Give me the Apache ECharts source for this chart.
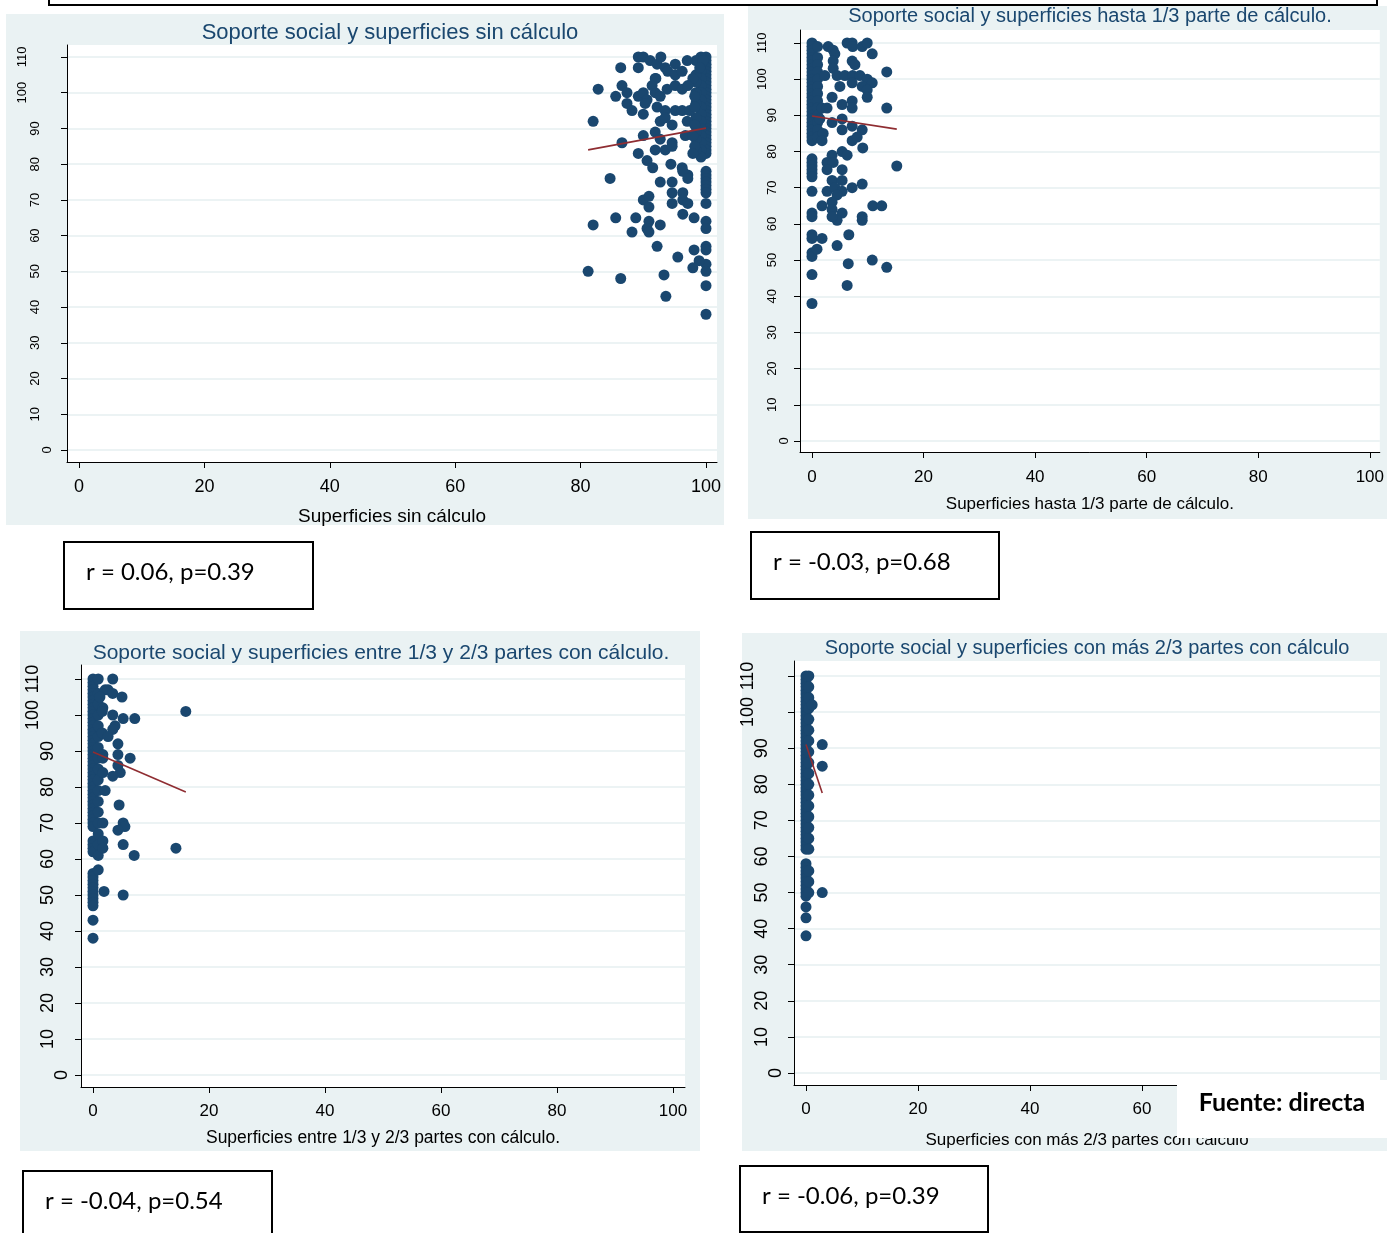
<!DOCTYPE html>
<html><head><meta charset="utf-8">
<script src="https://cdn.jsdelivr.net/npm/echarts@6/dist/echarts.min.js"></script>
<style>html,body{margin:0;padding:0;background:#fff}#c{width:1387px;height:1233px}</style>
</head><body><div id="c"></div>
<script>
// ---------- data ----------
const yTicks = [0,10,20,30,40,50,60,70,80,90,100,110];
const yTicks1 = [0];
const yTicks2 = [10,20,30,40,50,60,70,80,90];
const yTicks3 = [100,110];
const xTicks = [0,20,40,60,80,100];

// Panel 1: superficies sin cálculo
const p1Col100 = [110,109,108,107,106,105,104,103,102,101,100,99,98,97,96,95,94,93,92,91,90,89,88,87,86,85,84,83,78,77,76,75,74,73,72,69,64,62,57,56,52,50,46,38];
const p1Col99 = [110,108,106,104,102,100,98,96,94,92,90,88,86,84,82];
const p1Col98 = [109,105,103,100,97,93,89,87,84];
const p1Other = [[89.2,110],[90,110],[91.1,109],[92.2,108],[92.8,110],[93.5,107],[95.1,108],[97,109],[99.5,109],
 [86.4,107],[89.2,107],[91.9,104],[92,104],[93.9,106],[95.1,105],[96.2,106],[97.9,104],[99,107],
 [82.8,101],[86.6,102],[85.6,99],[87.4,100],[89.2,99],[90,100],[90.6,98],[91.9,100],[92.7,99],[93.8,101],[95.1,102],[96.2,101],[97.1,102],[98.2,99],[91.4,102],
 [87.4,97],[88.2,95],[90,94],[90.3,97],[92.2,96],[93.5,95],[95.1,95],[96.2,95],[97.4,95],[98.2,96],
 [82,92],[92.7,92],[94.6,91],[97,92],[98.2,91],[93.5,93],
 [90,88],[86.6,86],[91.9,89],[92.7,87],[94.6,86],[96.7,88],[97.9,88],[98.2,85],
 [89.2,83],[91.9,84],[93.5,84],[94.6,85],[97.9,83],
 [90.6,81],[91.5,79],[94.4,80],[96.2,79],[97.1,77],[96.3,78],[84.7,76],
 [92.7,75],[94.6,75],[97.1,76],[94.6,72],[96.3,72],[90,70],[90.9,71],[90.9,68],[94.6,69],[96.3,70],[97.1,69],
 [82,63],[85.6,65],[88.8,65],[90.9,64],[88.2,61],[90.6,62],[90.9,61],[92.7,63],[96.3,66],[98.1,65],
 [92.2,57],[95.5,54],[98.1,56],[98.9,53],[81.2,50],[86.4,48],[93.3,49],[97.9,51],[93.6,43]];
const p1Fit = [[81.2,84.0],[100,90.1]];

// Panel 2: hasta 1/3 parte de cálculo
const p2Col0 = [110,109,108,107,106,105,104,103,102,101,100,99,98,97,96,95,94,93,92,91,90,89,88,87,86,85,84,83,78,77,76,75,74,73,69,63,62,57,56,52,51,46,38];
const p2Col1 = [109,106,104,102,100,98,96,94,92,90,88,86,84];
const p2Other = [[2.9,109],[3.8,108],[4.1,107],[6.3,110],[7.2,110],[7.3,109],[9.0,109],[9.9,110],[10.8,107],
 [3.8,105],[3.8,103],[7.2,105],[7.7,104],[13.4,102],
 [2.3,101],[4.5,101],[5.9,101],[7.3,101],[8.6,101],[9.9,100],[10.8,99],[5.0,98],[7.2,99],[9.0,98],[9.9,97],
 [3.6,95],[9.9,95],[5.4,93],[7.2,94],[7.2,92],[13.4,92],
 [1.8,92],[2.7,92],[1.4,89],[3.6,88],[5.4,89],[7.2,87],[9.0,86],[5.4,86],[2.0,85],[1.8,83],[7.2,83],[8.1,84],[9.1,81],
 [5.4,80],[6.3,79],[3.6,79],[2.7,77],[3.8,77],[2.7,75],[5.4,75],[15.2,76],
 [3.6,72],[5.4,72],[9.0,71],[7.2,70],[2.7,69],[4.1,70],[5.4,69],[4.5,68],
 [1.8,65],[3.6,66],[3.6,64],[5.4,63],[10.9,65],[12.5,65],[9.0,62],[9.0,61],[4.5,61],[3.6,62],
 [1.8,56],[6.6,57],[4.5,54],[0.9,53],[6.5,49],[10.8,50],[13.4,48],[6.3,43]];
const p2Fit = [[0,89.8],[15.2,86.2]];

// Panel 3: entre 1/3 y 2/3 partes con cálculo
const p3Col0 = [110,109,108,107,106,105,104,103,102,101,100,99,98,97,96,95,94,93,92,91,90,89,88,87,86,85,84,83,82,81,80,79,78,77,76,75,74,73,72,71,70,69,65,64,63,62,56,55,54,53,52,51,50,49,48,47,43,38];
const p3Col1 = [110,106,103,100,97,94,91,88,85,82,79,76,73,70,67,64,61,57];
const p3Other = [[3.4,110],[2.1,107],[2.6,107],[3.4,106],[5.0,105],[1.2,105],[1.7,102],[1.6,101],
 [16.0,101],[3.4,100],[5.2,99],[7.2,99],[3.8,97],[3.4,96],[1.6,95],[2.6,94],[4.3,92],
 [1.7,89],[4.3,89],[1.7,88],[6.4,88],[4.3,86],[4.7,84],[3.4,83],[1.7,84],[2.1,79],[4.5,75],
 [1.7,70],[5.2,70],[5.5,69],[4.3,68],[1.7,65],[1.7,63],[5.2,64],[7.1,61],[14.3,63],[1.9,51],[5.2,50]];
const p3Fit = [[0,89.7],[16,78.6]];

// Panel 4: con más 2/3 partes con cálculo
const p4Col0 = [110,109,108,107,106,105,104,103,102,101,100,99,98,97,96,95,94,93,92,91,90,89,88,87,86,85,84,83,82,81,80,79,78,77,76,75,74,73,72,71,70,69,68,67,66,65,64,63,62,58,57,56,55,54,53,52,51,50,49,46,43,38];
const p4Col05 = [110,107,104,101,98,95,92,89,86,83,80,77,74,71,68,65,62,56,53,50];
const p4Other = [[1.1,102],[2.9,91],[2.9,85],[2.9,50]];
const p4Fit = [[0,91.0],[2.9,77.6]];

const titles = ['Soporte social y superficies sin cálculo','Soporte social y superficies hasta 1/3 parte de cálculo.','Soporte social y superficies entre 1/3 y 2/3 partes con cálculo.','Soporte social y superficies con más 2/3 partes con cálculo'];
const xNames = ['Superficies sin cálculo','Superficies hasta 1/3 parte de cálculo.','Superficies entre 1/3 y 2/3 partes con cálculo.','Superficies con más 2/3 partes con cálculo'];
const stats = ['r = 0.06, p=0.39','r = -0.03, p=0.68','r = -0.04, p=0.54','r = -0.06, p=0.39'];

// ---------- build ----------
function col(x, ys){ return ys.map(y=>[x,y]); }
const panelData = [
  col(100,p1Col100).concat(col(99.2,p1Col99), col(98.4,p1Col98), p1Other),
  col(0,p2Col0).concat(col(1.0,p2Col1), p2Other),
  col(0,p3Col0).concat(col(0.9,p3Col1), p3Other),
  col(0,p4Col0).concat(col(0.5,p4Col05), p4Other)
];
const fits = [p1Fit,p2Fit,p3Fit,p4Fit];

// layout
const L = [
 {g:[67,45,650,417], x:[-1.914,101.754], y:[-3.359,113.359], bg:[6,14,718,511], tfs:22, ty:33, tx:390, yfs:13, ym:[13,25,38], xfs:18, xm:16, nfs:19, ng:45,
  box:[64,542,249,67], sy:572},
 {g:[800,30,580,422], x:[-2.15,101.79], y:[-3.04,113.59], bg:[748,6,639,513], tfs:20, ty:16, tx:1090, yfs:13, ym:[9,21,31], xfs:17, xm:17, nfs:17, ng:44,
  box:[751,532,248,67], sy:562},
 {g:[81,665,604,422], x:[-2.069,102.069], y:[-3.333,113.889], bg:[20,631,680,520], tfs:21, ty:653, tx:381, yfs:18, ym:[10,24,39], xfs:17, xm:16, nfs:17.5, ng:42,
  box:[23,1171,249,80], sy:1201},
 {g:[794,661,586,424], x:[-2.143,102.5], y:[-3.325,114.156], bg:[742,633,645,518], tfs:20, ty:648, tx:1087, yfs:18, ym:[9,23,37], xfs:17, xm:16, nfs:17, ng:47,
  box:[740,1166,248,66], sy:1196}
];

const FONT = '"Liberation Sans", Arial, sans-serif';
const grid=[], xAxis=[], yAxis=[], series=[], graphic=[];
L.forEach((p,i)=>{
  grid.push({left:p.g[0], top:p.g[1], width:p.g[2], height:p.g[3], show:true, backgroundColor:'#ffffff', borderWidth:0});
  xAxis.push({type:'value', gridIndex:i, min:p.x[0], max:p.x[1],
    axisLine:{show:true, onZero:false, lineStyle:{color:'#000', width:1}},
    axisTick:{show:true, length:6, customValues:xTicks, lineStyle:{color:'#000', width:1}},
    axisLabel:{customValues:xTicks, fontSize:p.xfs, color:'#000', fontFamily:FONT, margin:p.xm},
    splitLine:{show:false},
    name:xNames[i], nameLocation:'middle', nameGap:p.ng, nameTextStyle:{fontSize:p.nfs, color:'#000', fontFamily:FONT}
  });
  const yBase = {type:'value', gridIndex:i, min:p.y[0], max:p.y[1], position:'left', offset:0};
  // main axis: line, ticks, gridlines, two-digit labels
  yAxis.push(Object.assign({}, yBase, {
    axisLine:{show:true, onZero:false, lineStyle:{color:'#000', width:1}},
    axisTick:{show:true, length:6, customValues:yTicks, lineStyle:{color:'#000', width:1}},
    axisLabel:{customValues:yTicks2, fontSize:p.yfs, color:'#000', fontFamily:FONT, margin:p.ym[1], rotate:90},
    splitLine:{show:true, lineStyle:{color:'#e6eff1', width:1.5}}
  }));
  // label-only axes for one- and three-digit labels
  [[yTicks1,p.ym[0]],[yTicks3,p.ym[2]]].forEach(([vals,m])=>{
    yAxis.push(Object.assign({}, yBase, {
      axisLine:{show:false}, axisTick:{show:false}, splitLine:{show:false},
      axisLabel:{customValues:vals, fontSize:p.yfs, color:'#000', fontFamily:FONT, margin:m, rotate:90}
    }));
  });
  const yi = i*3;
  series.push({type:'scatter', xAxisIndex:i, yAxisIndex:yi, data:panelData[i], symbolSize:11,
    itemStyle:{color:'#1a476f', opacity:1}, z:2, silent:true});
  series.push({type:'line', xAxisIndex:i, yAxisIndex:yi, data:fits[i], symbol:'none',
    lineStyle:{color:'#8f2d32', width:1.6}, z:3, silent:true});
  graphic.push({type:'rect', z:-10, shape:{x:p.bg[0], y:p.bg[1], width:p.bg[2], height:p.bg[3]}, style:{fill:'#eaf2f3'}});
  graphic.push({type:'text', z:10, x:p.tx, y:p.ty, style:{text:titles[i], fill:'#1a476f', font:p.tfs+'px '+FONT, align:'center', verticalAlign:'middle', textAlign:'center', textVerticalAlign:'middle'}});
  graphic.push({type:'rect', z:10, shape:{x:p.box[0], y:p.box[1], width:p.box[2], height:p.box[3]}, style:{fill:'#fff', stroke:'#000', lineWidth:2}});
  graphic.push({type:'text', z:11, x:p.box[0]+22, y:p.sy, style:{text:stats[i], fill:'#000', font:'24px Lato, "Open Sans", sans-serif', align:'left', verticalAlign:'middle', textAlign:'left', textVerticalAlign:'middle'}});
});
// top frame
graphic.push({type:'rect', z:10, shape:{x:49, y:-10, width:1328, height:15}, style:{fill:'none', stroke:'#000', lineWidth:2}});
// source box
graphic.push({type:'rect', z:20, shape:{x:1177, y:1080, width:210, height:58}, style:{fill:'#fff'}});
graphic.push({type:'text', z:21, x:1282, y:1103, style:{text:'Fuente: directa', fill:'#000', font:'bold 25px Lato, "Open Sans", sans-serif', align:'center', verticalAlign:'middle', textAlign:'center', textVerticalAlign:'middle'}});

const chart = echarts.init(document.getElementById('c'), null, {renderer:'canvas'});
chart.setOption({animation:false, backgroundColor:'#ffffff', grid, xAxis, yAxis, series, graphic});
</script></body></html>
